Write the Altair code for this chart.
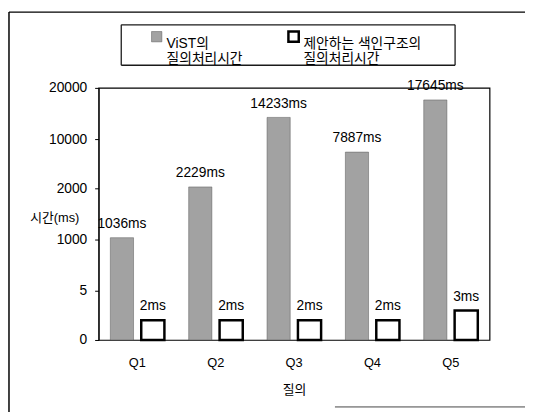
import altair as alt
import pandas as pd

queries = ["Q1", "Q2", "Q3", "Q4", "Q5"]
vist_ms = [1036, 2229, 14233, 7887, 17645]
proposed_ms = [2, 2, 2, 2, 3]
series_names = ["ViST의 질의처리시간", "제안하는 색인구조의 질의처리시간"]
y_ticks = [0, 5, 1000, 2000, 10000, 20000]

rows = []
for q, v in zip(queries, vist_ms):
    rows.append({"q": q, "series": series_names[0], "ms": v, "label": f"{v}ms"})
for q, v in zip(queries, proposed_ms):
    rows.append({"q": q, "series": series_names[1], "ms": v, "label": f"{v}ms"})
df = pd.DataFrame(rows)

FONT = "Liberation Sans, Arial, Noto Sans CJK KR"
W, H = 397, 256

yscale = alt.Scale(domain=y_ticks, range=[256, 206, 154, 102, 52, 0], nice=False, zero=False)
xscale = alt.Scale(paddingInner=0.31, paddingOuter=0.15)
offscale = alt.Scale(paddingInner=0.25, paddingOuter=0)

label_expr = ("datum.label == '" + series_names[0] + "' ? ['ViST의', '질의처리시간'] : "
              "['제안하는 색인구조의', '질의처리시간']")

base = alt.Chart(df)

bars = base.mark_bar().encode(
    x=alt.X("q:N", scale=xscale, sort=queries,
            axis=alt.Axis(title="질의", labelAngle=0, ticks=False, domain=False,
                          labelPadding=17, titlePadding=14, labelFontSize=13,
                          titleFontSize=13, titleFontWeight="normal",
                          labelColor="black", titleColor="black")),
    xOffset=alt.XOffset("series:N", scale=offscale, sort=series_names),
    y=alt.Y("ms:Q", scale=yscale,
            axis=alt.Axis(values=y_ticks, format="d", title="시간(ms)", grid=False,
                          titleAngle=0, titleAlign="right", titleBaseline="middle",
                          titleX=-20, titleY=132, titleFontSize=13,
                          titleFontWeight="normal", labelFontSize=14,
                          tickSize=4, labelPadding=8, domainColor="black",
                          tickColor="black", labelColor="black", titleColor="black")),
    fill=alt.Fill("series:N", sort=series_names,
                  scale=alt.Scale(domain=series_names, range=["#a2a2a2", "#ffffff"]),
                  legend=alt.Legend(title=None, orient="none", legendX=48, legendY=-63,
                                    direction="horizontal", symbolType="square",
                                    symbolSize=110, labelFontSize=14, labelExpr=label_expr,
                                    labelBaseline="top", labelOffset=3, columnPadding=40,
                                    padding=4,
                                    labelColor="black", labelLimit=300,
                                    symbolStrokeColor="#111111", symbolStrokeWidth=1.5)),
    stroke=alt.Stroke("series:N", sort=series_names,
                      scale=alt.Scale(domain=series_names, range=["#555555", "#000000"]),
                      legend=None),
    strokeWidth=alt.StrokeWidth("series:N", sort=series_names,
                                scale=alt.Scale(domain=series_names, range=[0.5, 2.5]),
                                legend=None),
)

texts = base.mark_text(baseline="bottom", dy=-7, fontSize=14, font=FONT, color="black").encode(
    x=alt.X("q:N", scale=xscale, sort=queries),
    xOffset=alt.XOffset("series:N", scale=offscale, sort=series_names),
    y=alt.Y("ms:Q", scale=yscale),
    text="label:N",
)

one = pd.DataFrame({"a": [0]})
BOX = "#1a1a1a"
box_top = alt.Chart(one).mark_rule(color=BOX, strokeWidth=1.3).encode(
    x=alt.value(23), x2=alt.value(362), y=alt.value(-64))
box_bottom = alt.Chart(one).mark_rule(color=BOX, strokeWidth=1.3).encode(
    x=alt.value(23), x2=alt.value(362), y=alt.value(-23))
box_left = alt.Chart(one).mark_rule(color=BOX, strokeWidth=1.3).encode(
    x=alt.value(23), y=alt.value(-64), y2=alt.value(-23))
box_right = alt.Chart(one).mark_rule(color=BOX, strokeWidth=1.3).encode(
    x=alt.value(362), y=alt.value(-64), y2=alt.value(-23))

left_border = alt.Chart(one).mark_rule(color="black", strokeWidth=1.5).encode(
    x=alt.value(-91), y=alt.value(-77), y2=alt.value(330))
top_border = alt.Chart(one).mark_rule(color="black", strokeWidth=1.2).encode(
    x=alt.value(-91), x2=alt.value(440), y=alt.value(-77))
bottom_border = alt.Chart(one).mark_rule(color="#444444", strokeWidth=1).encode(
    x=alt.value(240), x2=alt.value(440), y=alt.value(324))

chart = alt.layer(bars, texts, box_top, box_bottom, box_left, box_right,
                  left_border, top_border, bottom_border).properties(
    width=W, height=H,
    autosize=alt.AutoSizeParams(type="none"),
    padding={"left": 92, "top": 78, "right": 36, "bottom": 70},
    view=alt.ViewBackground(stroke="black", strokeWidth=1.2),
).configure_view(stroke="black", strokeWidth=1.2).configure(
    font=FONT, background="white"
).configure_axis(labelFont=FONT, titleFont=FONT).configure_legend(labelFont=FONT)

chart.save("out.html", embed_options={"renderer": "svg", "actions": False})
